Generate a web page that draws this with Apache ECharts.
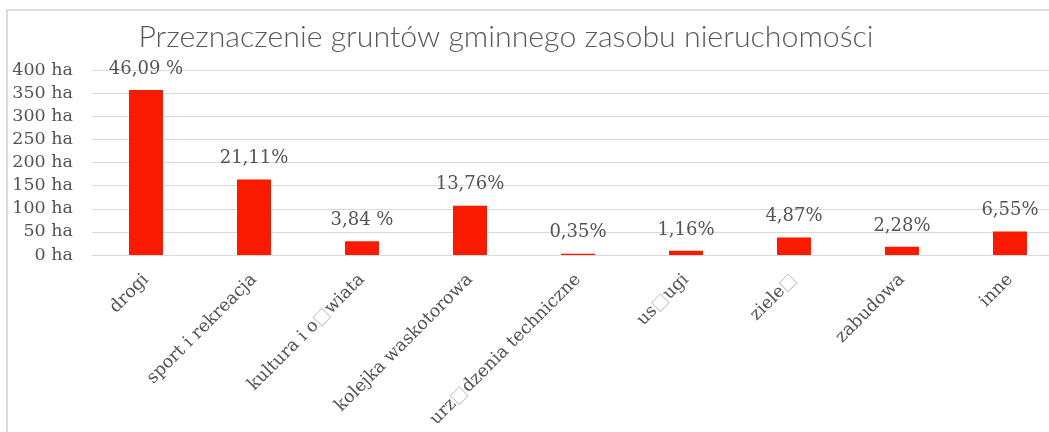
<!DOCTYPE html>
<html>
<head>
<meta charset="utf-8">
<script src="https://cdn.jsdelivr.net/npm/echarts@6/dist/echarts.min.js"></script>
<style>
  html, body { margin: 0; padding: 0; background: #ffffff; }
  #chart { width: 1049px; height: 432px; }
</style>
</head>
<body>
<div id="chart"></div>
<script>
// Land-use categories of the municipal property stock
const categories = [
  'drogi',
  'sport i rekreacja',
  'kultura i o\u25A1wiata',
  'kolejka waskotorowa',
  'urz\u25A1dzenia techniczne',
  'us\u25A1ugi',
  'ziele\u25A1',
  'zabudowa',
  'inne'
];

// Area of each category, in hectares
const areaHa = [356.7, 163.4, 29.7, 106.5, 2.7, 9.0, 37.7, 17.6, 50.7];

// Share labels printed above the bars
const shareLabels = ['46,09 %', '21,11%', '3,84 %', '13,76%', '0,35%', '1,16%', '4,87%', '2,28%', '6,55%'];

// Y axis range
const yMin = 0;
const yMax = 400;
const yStep = 50;

const textGrey = '#545454';
const gridGrey = '#d9d9d9';
const slabFont = '"DejaVu Serif", serif';

const chart = echarts.init(document.getElementById('chart'), null, { renderer: 'canvas' });

chart.setOption({
  animation: false,
  backgroundColor: '#ffffff',
  graphic: [{
    type: 'rect',
    shape: { x: 7, y: 10, width: 1200, height: 600 },
    style: { fill: 'none', stroke: gridGrey, lineWidth: 2 },
    silent: true,
    z: -1
  }],
  title: {
    text: 'Przeznaczenie gruntów gminnego zasobu nieruchomości',
    left: 501,
    top: 17,
    textAlign: 'center',
    textStyle: {
      fontFamily: 'Lato',
      fontWeight: 300,
      fontSize: 30.3,
      color: '#595959'
    }
  },
  grid: {
    left: 92,
    top: 70,
    width: 972,
    height: 185,
    containLabel: false,
    outerBoundsMode: 'none'
  },
  xAxis: {
    type: 'category',
    data: categories,
    axisLine: { lineStyle: { color: gridGrey, width: 1 } },
    axisTick: { show: false },
    axisLabel: {
      rotate: 45,
      margin: 22,
      interval: 0,
      fontFamily: slabFont,
      fontSize: 17.5,
      color: textGrey,
      formatter: (v) => v.replace(/\u25A1/g, '{t|\u25A1}'),
      rich: {
        t: { color: '#c8c8c8', fontSize: 17.5, fontFamily: '"DejaVu Sans"' }
      }
    }
  },
  yAxis: {
    type: 'value',
    min: yMin,
    max: yMax,
    interval: yStep,
    axisLine: { show: false },
    axisTick: { show: false },
    splitLine: { lineStyle: { color: gridGrey, width: 1 } },
    axisLabel: {
      margin: 19,
      fontFamily: slabFont,
      fontSize: 17.5,
      color: textGrey,
      formatter: (v) => v + ' ha'
    }
  },
  series: [{
    type: 'bar',
    data: areaHa,
    barWidth: 34,
    itemStyle: { color: '#fa1a00' },
    label: {
      show: true,
      position: 'top',
      distance: 12,
      fontFamily: slabFont,
      fontSize: 18,
      color: textGrey,
      formatter: (p) => shareLabels[p.dataIndex]
    }
  }]
});
</script>
</body>
</html>
